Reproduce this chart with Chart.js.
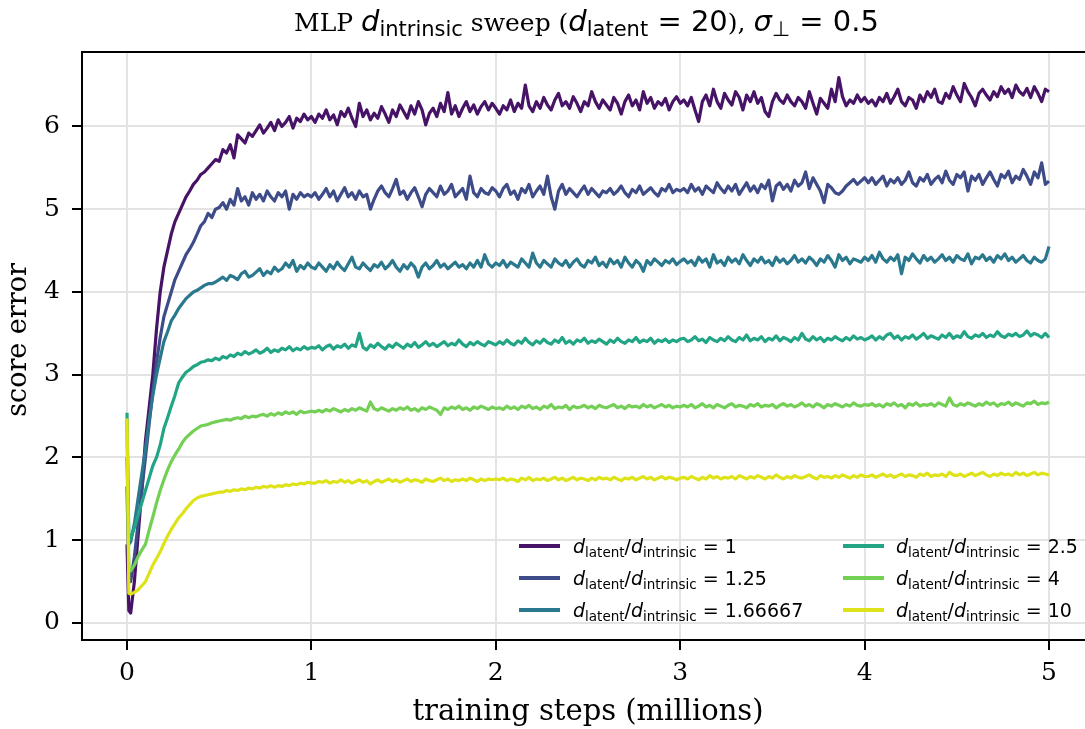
<!DOCTYPE html>
<html>
<head>
<meta charset="utf-8">
<script src="https://cdn.jsdelivr.net/npm/chart.js@4.4.0/dist/chart.umd.min.js"></script>
<style>
  body { margin: 0; background: #fff; }
  #wrap { width: 1085px; height: 729px; }
</style>
</head>
<body>
<div id="wrap"><canvas id="sweepChart" width="1085" height="729"></canvas></div>
<script>
// Data ------------------------------------------------------------------

// logging points, in units of 10k training steps
const steps = [
  0, 1, 2, 4, 6, 8, 10, 12, 14, 16, 18, 20, 22, 24, 26, 28,
  30, 32, 34, 36, 38, 40, 42, 44, 46, 48, 50, 52, 54, 56, 58, 60, 62, 64, 66, 68,
  70, 72, 74, 76, 78, 80, 82, 84, 86, 88, 90, 92, 94, 96, 98, 100,
  102, 104, 106, 108, 110, 112, 114, 116, 118, 120, 122, 124, 126, 128, 130, 132, 134, 136, 138, 140, 142, 144, 146, 148, 150,
  152, 154, 156, 158, 160, 162, 164, 166, 168, 170, 172, 174, 176, 178, 180, 182, 184, 186, 188, 190, 192, 194, 196, 198, 200,
  202, 204, 206, 208, 210, 212, 214, 216, 218, 220, 222, 224, 226, 228, 230, 232, 234, 236, 238, 240, 242, 244, 246, 248, 250,
  252, 254, 256, 258, 260, 262, 264, 266, 268, 270, 272, 274, 276, 278, 280, 282, 284, 286, 288, 290, 292, 294, 296, 298, 300,
  302, 304, 306, 308, 310, 312, 314, 316, 318, 320, 322, 324, 326, 328, 330, 332, 334, 336, 338, 340, 342, 344, 346, 348, 350,
  352, 354, 356, 358, 360, 362, 364, 366, 368, 370, 372, 374, 376, 378, 380, 382, 384, 386, 388, 390, 392, 394, 396, 398, 400,
  402, 404, 406, 408, 410, 412, 414, 416, 418, 420, 422, 424, 426, 428, 430, 432, 434, 436, 438, 440, 442, 444, 446, 448, 450,
  452, 454, 456, 458, 460, 462, 464, 466, 468, 470, 472, 474, 476, 478, 480, 482, 484, 486, 488, 490, 492, 494, 496, 498, 500
];

const ratios = ['1', '1.25', '1.66667', '2.5', '4', '10'];

const err_1 = [
  0.95, 0.15, 0.12, 0.5, 1.05, 1.6, 2.2, 2.6, 3.0, 3.55, 4.0, 4.3, 4.5, 4.7, 4.85, 4.95,
  5.05, 5.15, 5.22, 5.3, 5.35, 5.42, 5.45, 5.5, 5.55, 5.6, 5.58, 5.72, 5.68, 5.78, 5.62, 5.9, 5.85, 5.8,
  5.92, 5.88, 5.95, 6.02, 5.92, 5.98, 6.05, 5.95, 6.08, 6.0, 6.05, 6.12, 5.98, 6.1, 6.06, 6.15, 6.08, 6.12,
  6.05, 6.15, 6.1, 6.2, 6.08, 6.14, 6.02, 6.18, 6.12, 6.22, 6.1, 6.0, 6.28, 6.12, 6.2, 6.08, 6.16, 6.1, 6.24, 6.15, 6.05, 6.2, 6.12, 6.26, 6.18,
  6.1, 6.25, 6.15, 6.3, 6.2, 6.02, 6.16, 6.22, 6.12, 6.28, 6.18, 6.41, 6.15, 6.25, 6.12, 6.22, 6.3, 6.18, 6.26, 6.15, 6.24, 6.3, 6.2, 6.28, 6.22,
  6.15, 6.25, 6.2, 6.32, 6.18, 6.28, 6.22, 6.5, 6.25, 6.18, 6.3, 6.22, 6.35, 6.26, 6.2, 6.32, 6.4, 6.25, 6.3, 6.22, 6.36, 6.28, 6.18, 6.3, 6.25,
  6.42, 6.3, 6.22, 6.32, 6.26, 6.2, 6.35, 6.28, 6.15, 6.3, 6.38, 6.25, 6.32, 6.2, 6.42, 6.28, 6.35, 6.22, 6.3, 6.26, 6.34, 6.2, 6.3, 6.36, 6.28,
  6.32, 6.25, 6.35, 6.2, 6.06, 6.3, 6.38, 6.25, 6.45, 6.3, 6.22, 6.4, 6.32, 6.26, 6.42, 6.35, 6.2, 6.38, 6.3, 6.42, 6.28, 6.35, 6.18, 6.12, 6.3,
  6.4, 6.32, 6.28, 6.38, 6.3, 6.25, 6.35, 6.3, 6.22, 6.42, 6.28, 6.15, 6.34, 6.28, 6.22, 6.45, 6.3, 6.59, 6.36, 6.25, 6.32, 6.28, 6.38, 6.3, 6.35,
  6.28, 6.32, 6.25, 6.35, 6.3, 6.4, 6.28, 6.36, 6.45, 6.3, 6.25, 6.35, 6.32, 6.22, 6.38, 6.3, 6.42, 6.35, 6.45, 6.3, 6.28, 6.4, 6.34, 6.48, 6.38,
  6.3, 6.52, 6.42, 6.35, 6.25, 6.4, 6.45, 6.38, 6.32, 6.42, 6.36, 6.48, 6.4, 6.45, 6.35, 6.5, 6.42, 6.38, 6.46, 6.35, 6.48, 6.4, 6.3, 6.45, 6.42
];
const err_125 = [
  1.65, 0.55, 0.5, 0.8, 1.2, 1.6, 2.0, 2.4, 2.8, 3.15, 3.45, 3.7, 3.85, 4.0, 4.15, 4.25,
  4.35, 4.45, 4.52, 4.6, 4.7, 4.8, 4.85, 4.95, 4.9, 5.0, 5.02, 5.08, 5.0, 5.12, 5.05, 5.25, 5.1, 5.15,
  5.05, 5.2, 5.12, 5.18, 5.1, 5.22, 5.15, 5.1, 5.2, 5.15, 5.22, 5.0, 5.18, 5.12, 5.2, 5.15, 5.18, 5.15,
  5.2, 5.12, 5.18, 5.25, 5.15, 5.22, 5.1, 5.18, 5.26, 5.15, 5.2, 5.12, 5.22, 5.15, 5.18, 5.0, 5.12, 5.22, 5.28, 5.2, 5.15, 5.25, 5.36, 5.18, 5.22,
  5.12, 5.2, 5.26, 5.15, 5.03, 5.18, 5.25, 5.2, 5.15, 5.28, 5.18, 5.22, 5.3, 5.15, 5.2, 5.25, 5.12, 5.4, 5.2, 5.15, 5.25, 5.2, 5.18, 5.26, 5.22,
  5.15, 5.25, 5.3, 5.18, 5.22, 5.12, 5.25, 5.2, 5.3, 5.15, 5.22, 5.28, 5.18, 5.4, 5.15, 5.0, 5.22, 5.3, 5.18, 5.25, 5.2, 5.15, 5.22, 5.28, 5.18,
  5.25, 5.2, 5.15, 5.22, 5.2, 5.25, 5.18, 5.22, 5.28, 5.2, 5.15, 5.24, 5.2, 5.28, 5.18, 5.22, 5.26, 5.2, 5.16, 5.25, 5.22, 5.3, 5.2, 5.24, 5.22,
  5.25, 5.2, 5.3, 5.22, 5.26, 5.18, 5.28, 5.24, 5.2, 5.32, 5.25, 5.2, 5.28, 5.22, 5.3, 5.18, 5.25, 5.32, 5.22, 5.28, 5.2, 5.3, 5.25, 5.35, 5.1,
  5.28, 5.32, 5.24, 5.3, 5.22, 5.35, 5.28, 5.32, 5.45, 5.25, 5.38, 5.3, 5.22, 5.08, 5.3, 5.26, 5.2, 5.18, 5.22, 5.28, 5.32, 5.36, 5.3, 5.34, 5.38,
  5.32, 5.38, 5.3, 5.35, 5.4, 5.28, 5.36, 5.32, 5.38, 5.3, 5.35, 5.45, 5.32, 5.28, 5.38, 5.34, 5.42, 5.3, 5.36, 5.4, 5.32, 5.46, 5.35, 5.3, 5.42,
  5.38, 5.45, 5.22, 5.4, 5.35, 5.42, 5.3, 5.38, 5.45, 5.36, 5.28, 5.42, 5.38, 5.46, 5.32, 5.4, 5.36, 5.48, 5.4, 5.3, 5.45, 5.38, 5.56, 5.3, 5.34
];
const err_167 = [
  2.0, 0.95, 0.98, 1.2, 1.5, 1.8, 2.1, 2.45, 2.75, 3.0, 3.2, 3.4, 3.52, 3.65, 3.72, 3.8,
  3.86, 3.92, 3.96, 4.0, 4.02, 4.05, 4.08, 4.1, 4.1, 4.12, 4.15, 4.18, 4.14, 4.2, 4.18, 4.15, 4.22, 4.25,
  4.18, 4.2, 4.24, 4.28, 4.2, 4.25, 4.22, 4.3, 4.25, 4.28, 4.35, 4.3, 4.38, 4.25, 4.32, 4.28, 4.35, 4.3,
  4.28, 4.35, 4.3, 4.25, 4.33, 4.28, 4.36, 4.3, 4.26, 4.34, 4.42, 4.3, 4.28, 4.35, 4.3, 4.26, 4.33, 4.3, 4.36, 4.28, 4.32, 4.38, 4.3, 4.25, 4.33,
  4.28, 4.35, 4.3, 4.18, 4.3, 4.35, 4.28, 4.32, 4.38, 4.3, 4.34, 4.28, 4.32, 4.36, 4.3, 4.33, 4.28, 4.35, 4.3, 4.38, 4.3, 4.45, 4.34, 4.3, 4.35,
  4.32, 4.38, 4.3, 4.36, 4.33, 4.3, 4.4, 4.35, 4.3, 4.47, 4.35, 4.3, 4.38, 4.34, 4.3, 4.4, 4.35, 4.32, 4.38, 4.3, 4.36, 4.4, 4.33, 4.3, 4.38,
  4.35, 4.42, 4.32, 4.36, 4.3, 4.4, 4.34, 4.38, 4.3, 4.42, 4.35, 4.3, 4.38, 4.34, 4.25, 4.38, 4.33, 4.4, 4.36, 4.32, 4.38, 4.35, 4.4, 4.33, 4.37,
  4.4, 4.35, 4.38, 4.32, 4.42, 4.36, 4.4, 4.3, 4.45, 4.35, 4.38, 4.32, 4.42, 4.36, 4.4, 4.34, 4.45, 4.38, 4.32, 4.4, 4.36, 4.42, 4.35, 4.38, 4.32,
  4.42, 4.36, 4.4, 4.34, 4.38, 4.44, 4.36, 4.4, 4.35, 4.42, 4.38, 4.32, 4.4, 4.36, 4.44, 4.38, 4.3, 4.45, 4.38, 4.42, 4.34, 4.4, 4.38, 4.36, 4.42,
  4.38, 4.44, 4.36, 4.48, 4.4, 4.36, 4.42, 4.38, 4.45, 4.22, 4.42, 4.38, 4.46, 4.4, 4.35, 4.44, 4.38, 4.42, 4.36, 4.4, 4.45, 4.38, 4.42, 4.36, 4.44,
  4.4, 4.38, 4.46, 4.34, 4.42, 4.4, 4.45, 4.38, 4.42, 4.36, 4.44, 4.4, 4.46, 4.38, 4.42, 4.36, 4.4, 4.44, 4.38, 4.35, 4.42, 4.38, 4.36, 4.4, 4.55
];
const err_25 = [
  2.54, 1.0, 1.02, 1.15, 1.3, 1.45, 1.6, 1.75, 1.9, 2.0, 2.15, 2.35, 2.48, 2.62, 2.75, 2.9,
  2.97, 3.03, 3.06, 3.1, 3.12, 3.15, 3.16, 3.18, 3.17, 3.2, 3.18, 3.22, 3.2, 3.24, 3.22, 3.26, 3.24, 3.28,
  3.25, 3.27, 3.3, 3.26, 3.28, 3.32, 3.27, 3.3, 3.28, 3.32, 3.3, 3.34, 3.29, 3.32, 3.3, 3.34, 3.31, 3.33,
  3.32, 3.35, 3.3, 3.34, 3.36, 3.31, 3.35, 3.33, 3.37, 3.32, 3.36, 3.34, 3.5, 3.33, 3.3, 3.36, 3.33, 3.38, 3.34, 3.31, 3.36, 3.33, 3.38, 3.35, 3.32,
  3.37, 3.34, 3.39, 3.33, 3.36, 3.4, 3.35, 3.38, 3.34, 3.37, 3.4, 3.35, 3.38, 3.36, 3.42, 3.37, 3.34, 3.39, 3.36, 3.4, 3.37, 3.35, 3.4, 3.38, 3.36,
  3.4, 3.37, 3.42, 3.38, 3.36, 3.41, 3.38, 3.44, 3.39, 3.36, 3.41, 3.38, 3.43, 3.39, 3.37, 3.42, 3.39, 3.45, 3.38, 3.41, 3.37, 3.42, 3.4, 3.44, 3.38,
  3.41, 3.39, 3.43, 3.4, 3.37, 3.42, 3.39, 3.44, 3.4, 3.38, 3.42, 3.4, 3.45, 3.39, 3.42, 3.4, 3.44, 3.38, 3.42, 3.4, 3.43, 3.39, 3.42, 3.4, 3.43,
  3.44, 3.4, 3.42, 3.46, 3.41, 3.43, 3.39, 3.45, 3.42, 3.4, 3.44, 3.41, 3.46, 3.42, 3.4, 3.45, 3.42, 3.48, 3.41, 3.44, 3.42, 3.46, 3.4, 3.44, 3.42,
  3.47, 3.41, 3.45, 3.43, 3.4, 3.45, 3.42, 3.5, 3.43, 3.41, 3.46, 3.42, 3.45, 3.4, 3.44, 3.42, 3.46, 3.43, 3.41, 3.45, 3.42, 3.47, 3.43, 3.45, 3.42,
  3.44, 3.47, 3.42, 3.46, 3.43, 3.48, 3.5, 3.44, 3.47, 3.42, 3.46, 3.44, 3.48, 3.43, 3.46, 3.5, 3.44, 3.47, 3.45, 3.43, 3.48, 3.45, 3.5, 3.44, 3.47,
  3.45, 3.52, 3.46, 3.44, 3.48, 3.46, 3.5, 3.45, 3.48, 3.46, 3.52, 3.47, 3.45, 3.49, 3.47, 3.5, 3.46, 3.48, 3.53, 3.47, 3.5, 3.48, 3.45, 3.5, 3.45
];
const err_4 = [
  2.45, 0.65, 0.63, 0.7, 0.8, 0.88, 0.95, 1.12, 1.28, 1.45, 1.6, 1.73, 1.85, 1.95, 2.03, 2.1,
  2.18, 2.24, 2.28, 2.32, 2.35, 2.38, 2.39, 2.4, 2.42, 2.43, 2.44, 2.45, 2.46, 2.45, 2.47, 2.48, 2.47, 2.5,
  2.48, 2.5, 2.49, 2.51, 2.52, 2.5, 2.53, 2.51, 2.54, 2.52, 2.55, 2.53, 2.55, 2.52, 2.56, 2.54, 2.55, 2.56,
  2.55, 2.57, 2.55, 2.58, 2.56, 2.59, 2.57, 2.55, 2.58, 2.56, 2.59, 2.57, 2.6, 2.58, 2.56, 2.67, 2.59, 2.57, 2.6, 2.58, 2.56, 2.59, 2.57, 2.6, 2.58,
  2.61, 2.57, 2.59, 2.56, 2.6, 2.58, 2.61, 2.59, 2.57, 2.52, 2.6, 2.58, 2.61, 2.59, 2.62, 2.58, 2.6, 2.57, 2.61, 2.59, 2.62, 2.6, 2.58, 2.61, 2.59,
  2.6, 2.58, 2.62, 2.59, 2.61, 2.58, 2.62, 2.6, 2.63, 2.59, 2.61, 2.58, 2.62, 2.6, 2.64, 2.59, 2.61, 2.6, 2.63, 2.58, 2.62, 2.6, 2.61, 2.63, 2.6,
  2.62, 2.59, 2.63, 2.61, 2.6, 2.62, 2.64, 2.6, 2.62, 2.59, 2.63, 2.61, 2.62, 2.6, 2.64, 2.61, 2.63, 2.6, 2.62, 2.64, 2.61, 2.63, 2.6, 2.62, 2.61,
  2.63, 2.61, 2.64, 2.6, 2.62, 2.65, 2.61, 2.63, 2.6, 2.64, 2.62, 2.6, 2.63, 2.65, 2.61, 2.63, 2.62, 2.6, 2.64, 2.62, 2.65, 2.61, 2.63, 2.62, 2.64,
  2.6, 2.63, 2.65, 2.62, 2.64, 2.61, 2.63, 2.66, 2.62, 2.64, 2.61, 2.65, 2.63, 2.6, 2.64, 2.62, 2.65, 2.63, 2.61, 2.64, 2.62, 2.66, 2.63, 2.62, 2.64,
  2.63, 2.65, 2.62, 2.64, 2.61, 2.65, 2.63, 2.66, 2.62, 2.64, 2.6, 2.65, 2.63, 2.66, 2.62, 2.64, 2.63, 2.65, 2.62, 2.66, 2.64, 2.62, 2.72, 2.64, 2.62,
  2.65, 2.63, 2.66, 2.64, 2.62, 2.65, 2.63, 2.67, 2.64, 2.66, 2.62, 2.65, 2.64, 2.67, 2.63, 2.66, 2.64, 2.62, 2.66, 2.65, 2.68, 2.64, 2.66, 2.65, 2.67
];
const err_10 = [
  2.47, 0.36, 0.35, 0.37, 0.4, 0.45, 0.5, 0.6, 0.7, 0.78, 0.86, 0.96, 1.05, 1.13, 1.2, 1.27,
  1.32, 1.38, 1.43, 1.48, 1.51, 1.53, 1.54, 1.55, 1.56, 1.57, 1.58, 1.58, 1.6, 1.59, 1.61, 1.6, 1.62, 1.61,
  1.63, 1.62, 1.64, 1.63, 1.65, 1.64, 1.66, 1.64, 1.66, 1.65, 1.67, 1.66, 1.68, 1.67, 1.69, 1.68, 1.7, 1.69,
  1.69, 1.71, 1.7, 1.72, 1.69, 1.71, 1.7, 1.73, 1.7, 1.72, 1.69, 1.71, 1.73, 1.7, 1.72, 1.68, 1.71, 1.73, 1.7, 1.72, 1.74, 1.71, 1.73, 1.7, 1.72,
  1.74, 1.71, 1.73, 1.72, 1.7, 1.74, 1.72, 1.71, 1.73, 1.75, 1.72, 1.74, 1.71, 1.73, 1.72, 1.74, 1.72, 1.75, 1.73, 1.71, 1.74, 1.72, 1.74, 1.73, 1.74,
  1.73, 1.75, 1.72, 1.74, 1.73, 1.71, 1.75, 1.73, 1.76, 1.72, 1.74, 1.73, 1.75, 1.72, 1.74, 1.76, 1.73, 1.75, 1.72, 1.74, 1.76, 1.73, 1.75, 1.74, 1.72,
  1.75, 1.73, 1.76, 1.74, 1.75, 1.73, 1.76, 1.74, 1.72, 1.75, 1.74, 1.76, 1.73, 1.75, 1.77, 1.74, 1.76, 1.73, 1.75, 1.77, 1.74, 1.76, 1.75, 1.73, 1.75,
  1.76, 1.74, 1.77, 1.75, 1.73, 1.76, 1.74, 1.78, 1.75, 1.77, 1.74, 1.76, 1.75, 1.77, 1.74, 1.78, 1.76, 1.74, 1.77, 1.75, 1.78, 1.76, 1.74, 1.77, 1.75,
  1.79, 1.76, 1.74, 1.77, 1.75, 1.78, 1.76, 1.75, 1.77, 1.79, 1.76, 1.74, 1.78, 1.76, 1.77, 1.75, 1.78, 1.76, 1.79, 1.77, 1.75, 1.78, 1.76, 1.79, 1.77,
  1.77, 1.79, 1.76, 1.78, 1.8, 1.77, 1.79, 1.76, 1.78, 1.8, 1.77, 1.79, 1.78, 1.76, 1.8, 1.78, 1.81, 1.77, 1.79, 1.78, 1.8, 1.77, 1.82, 1.79, 1.78,
  1.8, 1.77, 1.79, 1.81, 1.78, 1.8, 1.82, 1.79, 1.77, 1.8, 1.78, 1.81, 1.79, 1.8, 1.78, 1.82, 1.79, 1.81, 1.78, 1.8, 1.82, 1.79, 1.81, 1.8, 1.79
];

const series = [err_1, err_125, err_167, err_25, err_4, err_10];
const colors = ['#471366', '#3e4b89', '#2a788e', '#21a585', '#74cf55', '#dde318'];

const xTicks = [0, 1, 2, 3, 4, 5];
const yTicks = [0, 1, 2, 3, 4, 5, 6];

// Helpers ---------------------------------------------------------------

const SERIF = '"DejaVu Serif", serif';
const SANS = '"DejaVu Sans", sans-serif';

// draws a list of [text, font, yShift] pieces one after the other
function drawRich(ctx, parts, x, y, align) {
  let total = 0;
  parts.forEach(p => { ctx.font = p[1]; total += ctx.measureText(p[0]).width; });
  let cx = align === 'center' ? x - total / 2 : x;
  ctx.textBaseline = 'alphabetic';
  ctx.textAlign = 'left';
  parts.forEach(p => {
    ctx.font = p[1];
    ctx.fillText(p[0], cx, y + (p[2] || 0));
    cx += ctx.measureText(p[0]).width;
  });
}

function legendParts(ratio) {
  return [
    ['d', 'italic 19px ' + SANS],
    ['latent', '13.5px ' + SANS, 4],
    ['/', '19px ' + SANS],
    ['d', 'italic 19px ' + SANS],
    ['intrinsic', '13.5px ' + SANS, 4],
    [' = ' + ratio, '19px ' + SANS]
  ];
}

// plugin: title, axis labels, top spine, legend
const decorations = {
  id: 'decorations',
  afterDraw(chart) {
    const ctx = chart.ctx;
    const a = chart.chartArea;
    ctx.save();
    ctx.fillStyle = '#000';

    // top spine
    ctx.strokeStyle = '#000';
    ctx.lineWidth = 2;
    ctx.beginPath();
    ctx.moveTo(a.left - 1, a.top);
    ctx.lineTo(a.right, a.top);
    ctx.stroke();

    // title
    drawRich(ctx, [
      ['MLP ', '25px ' + SERIF],
      ['d', 'italic 29px ' + SANS],
      ['intrinsic', '21px ' + SANS, 5],
      [' sweep (', '25px ' + SERIF],
      ['d', 'italic 29px ' + SANS],
      ['latent', '21px ' + SANS, 5],
      [' = 20', '29px ' + SANS],
      ['), ', '25px ' + SERIF],
      ['σ', 'italic 29px ' + SANS],
      ['⊥', '21px ' + SANS, 5],
      [' = 0.5', '29px ' + SANS]
    ], (a.left + a.right) / 2 + 3, 31, 'center');

    // axis titles
    ctx.font = '29px ' + SERIF;
    ctx.textAlign = 'center';
    ctx.textBaseline = 'middle';
    ctx.fillText('training steps (millions)', 588, 712);
    ctx.font = '27px ' + SERIF;
    ctx.translate(19, 340);
    ctx.rotate(-Math.PI / 2);
    ctx.fillText('score error', 0, 0);
    ctx.setTransform(1, 0, 0, 1, 0, 0);

    // legend, two columns
    const cols = [{ line: 519, text: 573 }, { line: 843, text: 896 }];
    const rows = [546, 578, 610];
    ratios.forEach((r, i) => {
      const c = cols[Math.floor(i / 3)];
      const y = rows[i % 3];
      ctx.strokeStyle = colors[i];
      ctx.lineWidth = 4;
      ctx.beginPath();
      ctx.moveTo(c.line, y);
      ctx.lineTo(c.line + 41, y);
      ctx.stroke();
      ctx.fillStyle = '#000';
      drawRich(ctx, legendParts(r), c.text, y + 7, 'left');
    });
    ctx.restore();
  }
};

// Chart -----------------------------------------------------------------

const datasets = series.map((vals, i) => ({
  label: 'd_latent/d_intrinsic = ' + ratios[i],
  data: steps.map((s, j) => ({ x: s / 100, y: vals[j] })), // 10k steps -> millions
  borderColor: colors[i],
  borderWidth: 3.2,
  pointRadius: 0,
  tension: 0,
  borderJoinStyle: 'round',
  order: series.length - i
}));

const config = {
  type: 'line',
  data: { datasets },
  options: {
    responsive: false,
    animation: false,
    layout: { padding: { top: 52, right: 0, left: 0, bottom: 0 } },
    plugins: { legend: { display: false }, tooltip: { enabled: false } },
    scales: {
      x: {
        type: 'linear',
        min: -0.244,
        max: 5.195,
        afterBuildTicks: s => { s.ticks = xTicks.map(v => ({ value: v })); },
        afterFit: s => { s.height = 89; },
        grid: { color: '#e3e3e3', lineWidth: 2, tickColor: '#000', tickWidth: 2, tickLength: 10 },
        border: { color: '#000', width: 2 },
        ticks: { color: '#000', font: { family: 'DejaVu Serif', size: 25 }, padding: 8, maxRotation: 0 }
      },
      y: {
        min: -0.206,
        max: 6.9,
        afterBuildTicks: s => { s.ticks = yTicks.map(v => ({ value: v })); },
        afterFit: s => { s.width = 82; },
        grid: { color: '#e3e3e3', lineWidth: 2, tickColor: '#000', tickWidth: 2, tickLength: 10 },
        border: { color: '#000', width: 2 },
        ticks: { color: '#000', font: { family: 'DejaVu Serif', size: 25 }, padding: 12 }
      }
    }
  },
  plugins: [decorations]
};

const sweepChart = new Chart(document.getElementById('sweepChart'), config);
</script>
</body>
</html>
